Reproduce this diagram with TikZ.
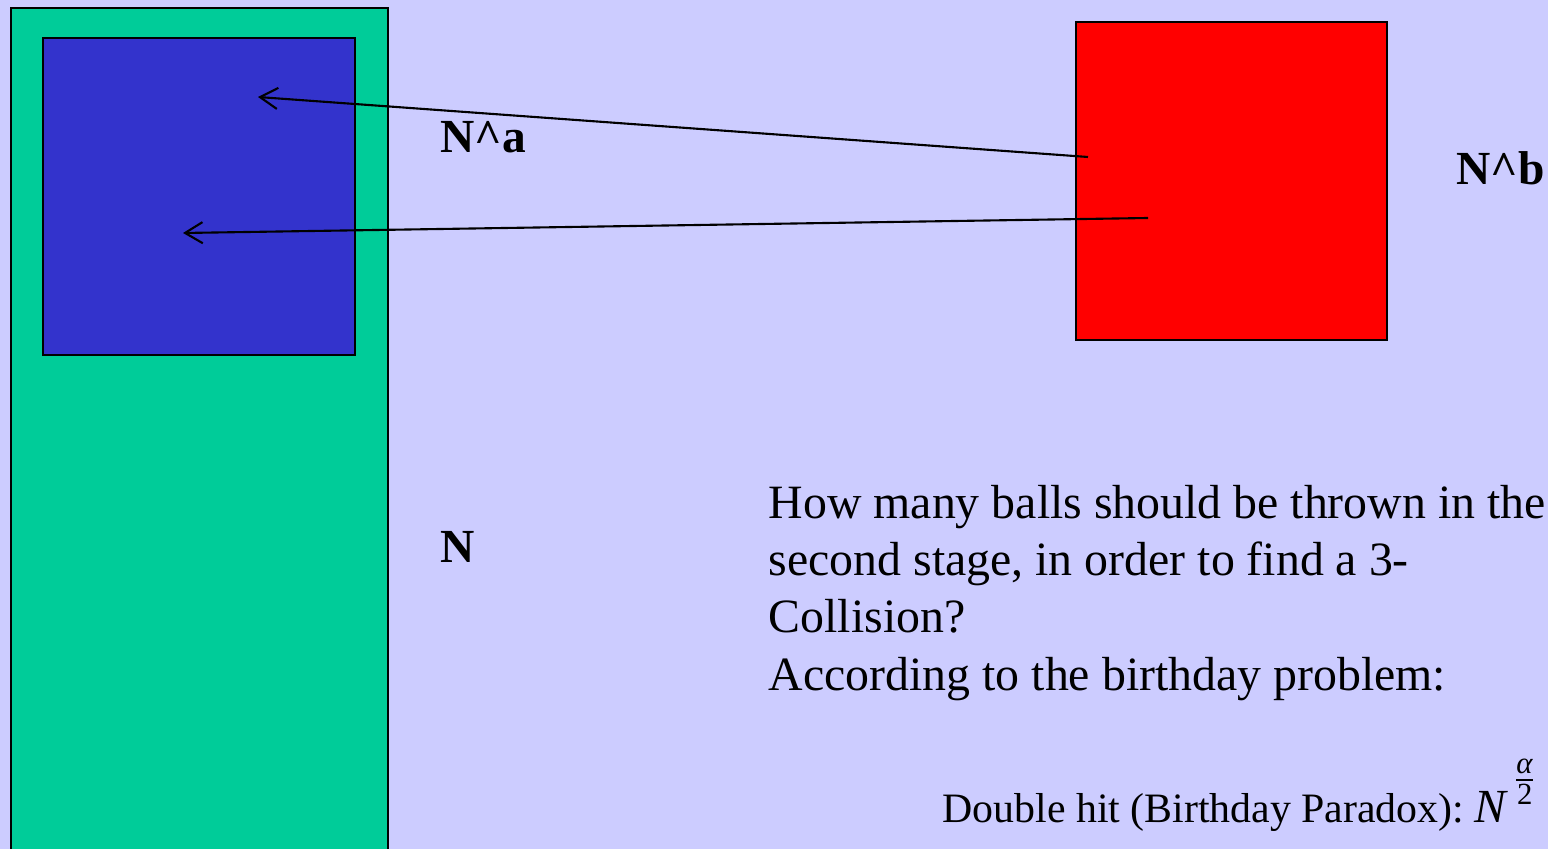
\documentclass[tikz,border=0pt]{standalone}
\usepackage{fontspec}
\setmainfont{Liberation Serif}
\usepackage{amsmath}
\usetikzlibrary{arrows.meta}
\definecolor{slide}{HTML}{CCCCFF}
\definecolor{space}{HTML}{00CC99}
\definecolor{image}{HTML}{3333CC}
\definecolor{preimage}{HTML}{FF0000}

\tikzset{
  box/.style={draw=black,line width=0.6pt,inner sep=0pt,anchor=north west},
  hit/.style={line width=0.6pt,-{Straight Barb[length=5pt,width=6pt]}},
  lbl/.style={font=\fontsize{13.5}{16.3}\selectfont\bfseries,anchor=base west,inner sep=0pt},
  txt/.style={font=\fontsize{13.6}{16.3}\selectfont,inner sep=0pt}
}

\begin{document}
\begin{tikzpicture}[x=0.01cm,y=-0.01cm]

  % slide background
  \fill[slide] (0,0) rectangle (1548,849);
  \useasboundingbox (0,0) rectangle (1548,849);
  \clip (0,0) rectangle (1548,849);

  % the range N and its subset N^a
  \node[box,fill=space,minimum width=3.77cm,minimum height=8.6cm] (range) at (10,7) {};
  \node[box,fill=image,minimum width=3.12cm,minimum height=3.17cm] (subset) at (42,37) {};

  % the second set N^b
  \node[box,fill=preimage,minimum width=3.11cm,minimum height=3.18cm] (second) at (1075,21) {};

  % arrows from N^b into N^a
  \coordinate (from1) at (1088,157);
  \coordinate (to1) at (258,97);
  \coordinate (from2) at (1148,218);
  \coordinate (to2) at (183,233);
  \draw[hit] (from1) -- (to1);
  \draw[hit] (from2) -- (to2);

  % labels
  \node[lbl] (na) at (440,153) {N\^{}a};
  \node[lbl] (nb) at (1456,185) {N\^{}b};
  \node[lbl] (n) at (440,563) {N};

  % question
  \node[txt,align=left,anchor=base west] (question) at (768,690)
    {How many balls should be thrown in the\\
     second stage, in order to find a 3-\\
     Collision?\\
     According to the birthday problem:};

  \node[txt,font=\fontsize{11.9}{14}\selectfont,anchor=base east] (birthday) at (1538,822)
    {Double hit (Birthday Paradox):\kern3pt{\fontsize{13.5}{14}\selectfont\textit{N}}\kern1pt\raisebox{9pt}{\fontsize{12.5}{12}\selectfont$\frac{\text{\textit{α}}}{\text{2}}$}};

\end{tikzpicture}
\end{document}
